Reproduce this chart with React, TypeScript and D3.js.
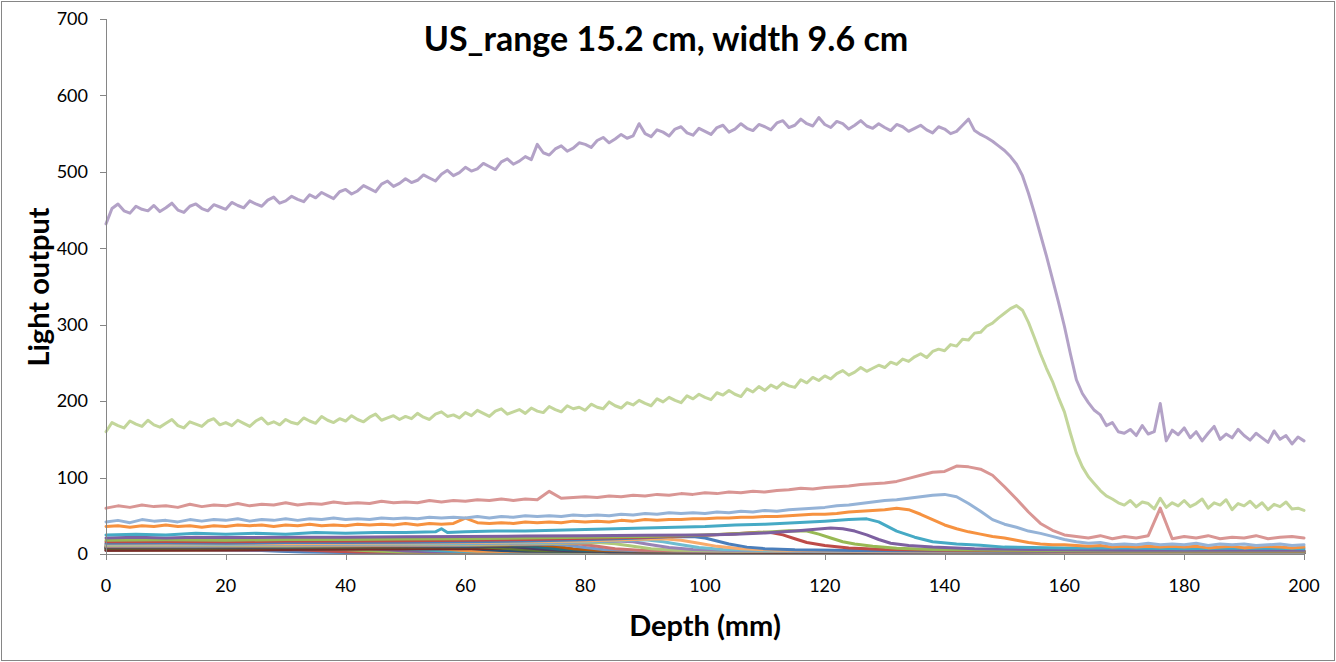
import React from "react";
import * as d3 from "d3";

const TITLE = "US_range 15.2 cm, width 9.6 cm";
const X_LABEL = "Depth (mm)";
const Y_LABEL = "Light output";
const X_TICKS = [0, 20, 40, 60, 80, 100, 120, 140, 160, 180, 200];
const Y_TICKS = [0, 100, 200, 300, 400, 500, 600, 700];

const COLORS = [
  "#4F81BD", "#C0504D", "#9BBB59", "#8064A2", "#4BACC6", "#F79646",
  "#2C4D75", "#772C2A", "#5F7530", "#4D3B62", "#276A7C", "#B65708",
  "#729ACA", "#CD7371", "#AFC97A", "#9983B5", "#6FBDD1", "#F9AB6B",
  "#4A7EBB", "#BE4B48", "#98B954", "#7D60A0", "#46AAC5", "#F69240",
  "#95B3D7", "#D99694", "#C3D69B", "#B3A2C7",
];

// sampled every 1 mm
const S28 = [
  432, 452, 458, 449, 446, 455, 451, 449, 456, 448,
  453, 459, 450, 447, 455, 458, 452, 449, 457, 454,
  451, 460, 456, 453, 462, 458, 455, 463, 467, 459,
  462, 468, 464, 461, 470, 466, 473, 469, 465, 474,
  477, 471, 475, 482, 478, 474, 484, 488, 481, 485,
  491, 486, 489, 496, 492, 488, 497, 502, 495, 499,
  506, 501, 504, 511, 507, 503, 513, 517, 510, 514,
  520, 516, 536, 525, 522, 530, 534, 527, 531, 538,
  536, 532, 541, 545, 538, 543, 549, 544, 547, 563,
  550, 546, 555, 552, 547, 556, 559, 551, 548, 557,
  553, 549, 558, 561, 552, 556, 563, 557, 554, 562,
  559, 555, 564, 567, 558, 561, 569, 563, 560, 571,
  562, 558, 566, 563, 556, 561, 567, 560, 557, 563,
  558, 554, 562, 559, 553, 557, 561, 555, 551, 559,
  556, 550, 553, 561, 569, 554, 549, 545, 540, 534,
  528, 520, 510, 495, 472, 446, 418, 390, 360, 330,
  298, 262, 228, 210, 198, 188, 182, 168, 172, 160,
  158, 163, 155, 168, 157, 160, 197, 148, 162, 156,
  165, 152, 160, 148, 158, 167, 150, 157, 152, 163,
  155, 149, 158, 152, 146, 161, 150, 155, 144, 153,
  148,
];

// sampled every 1 mm
const S27 = [
  160, 172, 168, 165, 174, 170, 167, 175, 169, 166,
  171, 176, 168, 165, 173, 170, 167, 174, 177, 169,
  172, 168, 175, 171, 167, 174, 178, 170, 173, 169,
  176, 172, 170, 178, 174, 171, 180, 175, 172, 177,
  174, 181, 176, 173, 179, 183, 175, 178, 181, 176,
  180, 177, 184, 179, 176, 183, 186, 180, 182, 178,
  185, 181, 188, 184, 180, 187, 190, 183, 186, 189,
  184, 191, 187, 185, 193, 189, 186, 194, 190, 192,
  188, 196, 192, 190, 199, 194, 191, 198, 195, 201,
  197, 194, 203, 199, 205, 201, 198, 207, 203, 209,
  205, 202, 211, 208, 214, 209, 206, 216, 212, 219,
  214, 221, 217, 224, 220, 218, 228, 224, 231, 227,
  233, 229, 236, 240, 234, 238, 244, 239, 243, 247,
  244, 251, 248, 255, 252, 258, 262, 257, 265, 268,
  266, 274, 272, 281, 280, 289, 290, 298, 302, 309,
  315, 321, 325, 319, 303, 283, 262, 243, 226, 205,
  186, 158, 132, 114, 101, 92, 83, 76, 72, 67,
  64, 70, 62, 68, 66, 59, 73, 61, 67, 63,
  70, 62, 66, 72, 60, 67, 64, 71, 58, 66,
  63, 69, 61, 67, 58, 65, 62, 68, 59, 60,
  57,
];

// sampled every 2 mm
const S26 = [
  60, 63, 61, 64, 62, 63, 61, 65, 62, 64,
  63, 66, 63, 65, 64, 67, 64, 66, 65, 68,
  66, 67, 66, 69, 67, 68, 67, 70, 68, 70,
  69, 71, 70, 72, 70, 72, 71, 82, 73, 74,
  75, 74, 76, 75, 77, 76, 78, 77, 79, 78,
  80, 79, 81, 80, 82, 81, 83, 84, 86, 85,
  87, 88, 89, 91, 92, 93, 95, 99, 103, 107,
  108, 115, 114, 111, 103, 88, 72, 55, 40, 31,
  25, 23, 21, 24, 20, 23, 21, 24, 60, 20,
  23, 21, 24, 20, 22, 21, 24, 20, 22, 23,
  21,
];

// sampled every 2 mm
const S25 = [
  42, 44, 41, 45, 43, 44, 42, 45, 43, 45,
  44, 46, 43, 45, 44, 46, 44, 46, 45, 47,
  45, 46, 45, 47, 46, 47, 46, 48, 47, 48,
  47, 49, 47, 49, 48, 50, 49, 50, 49, 51,
  50, 51, 50, 52, 51, 53, 52, 54, 53, 54,
  53, 55, 54, 56, 55, 57, 56, 58, 59, 60,
  61, 63, 64, 66, 68, 70, 71, 73, 75, 77,
  78, 75, 66, 56, 45, 39, 35, 30, 27, 23,
  19, 16, 14, 15, 12, 13, 12, 14, 12, 13,
  12, 14, 11, 13, 12, 13, 11, 12, 13, 11,
  12,
];

// sampled every 2 mm
const S24 = [
  36, 37, 35, 37, 36, 38, 36, 37, 35, 37,
  36, 38, 37, 38, 36, 38, 37, 39, 37, 38,
  37, 39, 38, 39, 38, 40, 38, 40, 39, 40,
  47, 41, 40, 41, 40, 42, 41, 42, 41, 43,
  42, 43, 42, 44, 43, 45, 44, 45, 45, 46,
  46, 47, 47, 48, 48, 49, 49, 50, 51, 52,
  52, 53, 55, 56, 57, 58, 60, 58, 52, 45,
  38, 33, 29, 26, 23, 21, 18, 15, 13, 12,
  12, 11, 10, 11, 9, 10, 9, 10, 9, 10,
  9, 10, 8, 9, 10, 8, 9, 10, 9, 8,
  9,
];

// [depth, value] pairs
const S23 = [[0,25],[5,26],[10,25],[15,27],[20,26],[25,27],[30,26],[35,28],[40,27],[45,28],[50,28],[55,29],[56,33],[57,28],[60,29],[65,30],[70,30],[75,31],[80,32],[85,33],[90,34],[95,35],[100,36],[105,38],[110,39],[115,41],[120,43],[124,45],[127,46],[129,42],[132,30],[135,22],[138,16],[142,13],[146,11.5],[150,9],[160,8],[170,8],[180,7],[190,8],[200,7]];
const S22 = [[0,21],[5,22],[10,21],[15,22],[20,21.5],[30,22],[40,22],[50,22.5],[60,23],[70,23.5],[80,24],[90,24.5],[100,25],[105,26],[110,27.5],[115,30],[118,32],[121,34],[123,33],[125,30],[127,25],[129,19],[131,14],[134,11],[138,9],[145,7],[155,6],[170,5],[185,5],[200,5]];
const S21 = [[0,18],[10,18.5],[20,18],[30,19],[40,19],[50,19.5],[60,20],[70,21],[80,22],[90,23],[100,25],[105,26.5],[110,28.5],[114,30.5],[117,30],[119,26],[121,21],[123,16],[125,13],[128,10],[132,7.5],[138,6],[150,5],[170,4],[200,4]];
const S20 = [[0,16],[10,16.5],[20,16],[30,17],[40,17],[50,17.5],[60,18],[70,19],[80,20.5],[90,22],[100,24.5],[105,26.5],[109,28.5],[111,28],[113,25],[115,20],[117,15],[120,11],[124,8],[130,6],[140,5],[160,4],[200,3.5]];
const S19 = [[0,14],[10,14.5],[20,14],[30,15],[40,15],[50,15.5],[60,16],[70,17],[80,18.5],[88,20.5],[94,22.5],[98,23],[100,21],[102,17],[104,13],[107,9],[110,7],[115,5.5],[125,4.5],[150,3.5],[200,3]];
const S18 = [[0,13],[10,13],[20,13.5],[30,13.5],[40,14],[50,14.5],[60,15],[70,16],[80,17],[88,19],[93,20],[96,18],[99,14],[102,10],[106,7],[112,5],[125,4],[160,3],[200,3]];
const S17 = [[0,12.5],[15,12.5],[30,13],[45,13.5],[60,14],[70,15],[80,16],[87,18],[90,18.5],[93,16],[96,12],[99,8.5],[103,6],[110,4.5],[130,3.5],[200,3]];
const S16 = [[0,12],[15,12],[30,12.5],[45,13],[60,13.5],[70,14.5],[78,15.5],[85,17],[88,16],[91,12],[94,8.5],[98,6],[105,4.5],[130,3],[200,3]];
const S15 = [[0,11],[15,11.5],[30,11.5],[45,12],[60,12.5],[70,13.5],[78,14.5],[82,15],[85,13.5],[88,10],[91,7],[95,5],[105,4],[140,3],[200,2.5]];
const S14 = [[0,10.5],[15,11],[30,11],[45,11.5],[60,12],[70,13],[76,14],[79,13],[82,10],[85,7],[89,5],[100,4],[140,3],[200,2.5]];
const S13 = [[0,10],[15,10],[30,10.5],[45,11],[60,11.5],[68,12.5],[74,13],[77,11.5],[80,8.5],[83,6],[88,4.5],[100,3.5],[150,3],[200,2.5]];
const S12 = [[0,9.5],[15,9.5],[30,10],[45,10.5],[60,11],[68,12],[72,12],[75,10],[78,7],[82,5],[90,4],[120,3],[200,2.5]];
const S11 = [[0,9],[15,9],[30,9.5],[45,10],[60,10.5],[66,11],[70,10.5],[73,8.5],[76,6],[80,4.5],[90,3.5],[130,3],[200,2]];
const S10 = [[0,8.5],[15,8.5],[30,9],[45,9.5],[58,10],[64,10.5],[68,9.5],[71,7.5],[74,5.5],[78,4],[90,3],[200,2]];
const S9 = [[0,8],[15,8],[30,8.5],[45,9],[56,9.5],[62,9.5],[66,8],[69,6],[72,4.5],[78,3.5],[100,3],[200,2]];
const S8 = [[0,5],[15,5.5],[30,6],[45,6.5],[60,7],[70,7.5],[75,7.5],[78,6],[81,4],[84,3],[100,2.5],[200,2]];
const S7 = [[0,7.5],[15,7.5],[30,8],[45,8.5],[55,8.5],[60,8],[63,6],[66,4.5],[70,3.5],[90,3],[200,2]];
const S6 = [[0,7],[15,7],[30,7.5],[45,8],[52,8],[56,7],[59,5],[62,3.5],[70,3],[200,2]];
const S5 = [[0,6.5],[15,6.5],[30,7],[42,7.5],[48,7.5],[52,6],[55,4.5],[58,3.5],[70,2.5],[200,2]];
const S4 = [[0,6],[15,6],[30,6.5],[40,7],[44,7],[47,5.5],[50,4],[54,3],[70,2.5],[200,2]];
const S3 = [[0,5.5],[15,5.5],[30,6],[36,6.5],[40,6],[43,4.5],[46,3.5],[50,2.5],[80,2],[200,1.5]];
const S2 = [[0,5],[15,5],[28,5.5],[32,5.5],[35,4.5],[38,3.5],[42,2.5],[60,2],[200,1.5]];
const S1 = [[0,4.5],[12,4.5],[22,5],[26,4.5],[29,3.5],[33,2.5],[40,2],[200,1.5]];

const toPairs = (vals: number[], step: number): [number, number][] =>
  vals.map((v, i) => [i * step, v]);

const SERIES: [number, number][][] = [
  S1, S2, S3, S4, S5, S6, S7, S8, S9, S10, S11, S12, S13, S14, S15, S16,
  S17, S18, S19, S20, S21, S22, S23,
  toPairs(S24, 2), toPairs(S25, 2), toPairs(S26, 2),
  toPairs(S27, 1), toPairs(S28, 1),
] as [number, number][][];

const W = 1336;
const H = 662;
const PL = 106, PR = 1304, PT = 19, PB = 554;
const AXIS = "#868686";
const FONT = "Lato, 'Open Sans', sans-serif";

export default function App() {
  const x = d3.scaleLinear().domain([0, 200]).range([PL, PR]);
  const y = d3.scaleLinear().domain([0, 700]).range([PB, PT]);
  const line = d3
    .line<[number, number]>()
    .x((d) => x(d[0]))
    .y((d) => y(d[1]));

  return (
    <svg
      width={W}
      height={H}
      style={{ position: "absolute", left: 0, top: 0, display: "block", background: "#fff" }}
    >
      <rect x={1.5} y={1.5} width={W - 3} height={H - 3} fill="#fff" stroke={AXIS} strokeWidth={1} />
      <text x={666} y={51} textAnchor="middle" fontFamily={FONT} fontWeight="bold" fontSize={34} fill="#000">
        {TITLE}
      </text>

      {SERIES.map((s, i) => (
        <path
          key={i}
          d={line(s) || ""}
          fill="none"
          stroke={COLORS[i]}
          strokeWidth={3}
          strokeLinejoin="round"
          strokeLinecap="round"
        />
      ))}

      {/* y axis */}
      <line x1={PL + 0.5} x2={PL + 0.5} y1={PT} y2={PB} stroke={AXIS} />
      {Y_TICKS.map((t) => (
        <g key={"y" + t}>
          <line x1={PL - 6} x2={PL} y1={Math.round(y(t)) + 0.5} y2={Math.round(y(t)) + 0.5} stroke={AXIS} />
          <text x={88} y={y(t)} dy="0.35em" textAnchor="end" fontFamily={FONT} fontSize={18} fill="#000">
            {t}
          </text>
        </g>
      ))}

      {/* x axis */}
      <line x1={PL} x2={PR} y1={PB + 0.5} y2={PB + 0.5} stroke={AXIS} />
      {X_TICKS.map((t) => (
        <g key={"x" + t}>
          <line x1={Math.round(x(t)) + 0.5} x2={Math.round(x(t)) + 0.5} y1={PB} y2={PB + 6} stroke={AXIS} />
          <text x={x(t)} y={592} textAnchor="middle" fontFamily={FONT} fontSize={18} fill="#000">
            {t}
          </text>
        </g>
      ))}

      <text x={705} y={636} textAnchor="middle" fontFamily={FONT} fontWeight="bold" fontSize={29} fill="#000">
        {X_LABEL}
      </text>
      <text
        transform="translate(49,287) rotate(-90)"
        textAnchor="middle"
        fontFamily={FONT}
        fontWeight="bold"
        fontSize={29}
        fill="#000"
      >
        {Y_LABEL}
      </text>
    </svg>
  );
}
